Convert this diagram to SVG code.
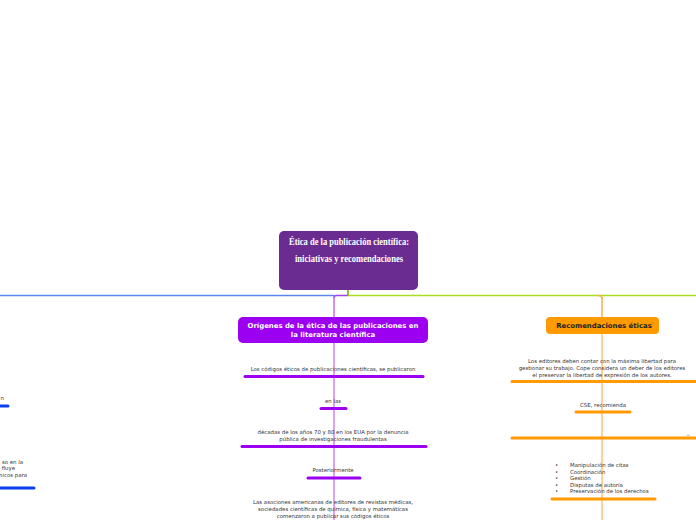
<svg xmlns="http://www.w3.org/2000/svg" width="696" height="520" viewBox="0 0 696 520">
<style>
.t{font-family:"DejaVu Sans",Verdana,sans-serif;font-size:5.4px;fill:#333;text-anchor:middle}
.tl{font-family:"DejaVu Sans",Verdana,sans-serif;font-size:5.4px;fill:#333}
.pb{stroke:#9b00f0;stroke-width:3;stroke-linecap:round;fill:none}
.ob{stroke:#ff9a00;stroke-width:3;stroke-linecap:round;fill:none}
.bb{stroke:#0a40f0;stroke-width:3;stroke-linecap:round;fill:none}
.pl{stroke:#dca2f8;stroke-width:2;fill:none}
.ol{stroke:#ffd09a;stroke-width:2;fill:none}
.ti{font-family:"Liberation Serif",serif;font-weight:bold;font-size:9.5px;fill:#fff;text-anchor:middle}
</style>
<rect width="696" height="520" fill="#ffffff"/>
<g id="connectors">
<line x1="348" y1="290" x2="348" y2="295.5" stroke="#8cbf3a" stroke-width="2"/>
<line x1="0" y1="295.5" x2="334" y2="295.5" stroke="#5b86f0" stroke-width="1.5"/>
<line x1="334" y1="298" x2="334" y2="317" stroke="#d590f8" stroke-width="2"/>
<path d="M348 295.5 H336 Q334 295.5 334 298" stroke="#a040f0" stroke-width="1.5" fill="none"/>
<line x1="602" y1="297" x2="602" y2="317" stroke="#ffc27a" stroke-width="2"/>
<line x1="348" y1="295.5" x2="696" y2="295.5" stroke="#a8e020" stroke-width="1.5"/>
<path d="M598 295.5 Q602 295.5 602 299" stroke="#ffb050" stroke-width="1.5" fill="none"/>
<line class="pl" x1="334" y1="343" x2="334" y2="520"/>
<line class="ol" x1="602" y1="334" x2="602" y2="520"/>
</g>
<g id="root">
<rect x="279" y="231" width="139" height="59" rx="5" fill="#6a2c91"/>
<text class="ti" x="349" y="245" textLength="120" lengthAdjust="spacingAndGlyphs">Ética de la publicación científica:</text>
<text class="ti" x="349" y="262" textLength="108" lengthAdjust="spacingAndGlyphs">iniciativas y recomendaciones</text>
</g>
<g id="origenes">
<rect x="238" y="317" width="190" height="26" rx="5" fill="#9b00f0"/>
<text x="333" y="328" font-family="DejaVu Sans,sans-serif" font-weight="bold" font-size="6.9" fill="#fff" text-anchor="middle">Orígenes de la ética de las publicaciones en</text>
<text x="333" y="337" font-family="DejaVu Sans,sans-serif" font-weight="bold" font-size="6.9" fill="#fff" text-anchor="middle">la literatura científica</text>
</g>
<g id="o1">
<text class="t" x="333" y="371">Los códigos éticos de publicaciones científicas, se publicaron</text>
<line class="pb" x1="245" y1="376.5" x2="423" y2="376.5"/>
</g>
<g id="o2">
<text class="t" x="333" y="403">en las</text>
<line class="pb" x1="321" y1="408.5" x2="346" y2="408.5"/>
</g>
<g id="o3">
<text class="t" x="333" y="434">décadas de los años 70 y 80 en los EUA por la denuncia</text>
<text class="t" x="333" y="441">pública de investigaciones fraudulentas</text>
<line class="pb" x1="242" y1="446.5" x2="426" y2="446.5"/>
</g>
<g id="o4">
<text class="t" x="333" y="472">Posteriormente</text>
<line class="pb" x1="308" y1="478" x2="360" y2="478"/>
</g>
<g id="o5">
<text class="t" x="333" y="504">Las asociones americanas de editores de revistas médicas,</text>
<text class="t" x="333" y="511">sociedades científicas de química, física y matemáticas</text>
<text class="t" x="333" y="518">comenzaron a publicar sus códigos éticos</text>
</g>
<g id="recomendaciones">
<rect x="546" y="317" width="113" height="17" rx="4" fill="#ff9a00"/>
<text x="604" y="328" font-family="DejaVu Sans,sans-serif" font-weight="bold" font-size="6.9" fill="#222" text-anchor="middle">Recomendaciones éticas</text>
</g>
<g id="r1">
<text class="t" x="602" y="363">Los editores deben contar con la máxima libertad para</text>
<text class="t" x="602" y="370">gestionar su trabajo. Cope considera un deber de los editores</text>
<text class="t" x="602" y="377">el preservar la libertad de expresión de los autores.</text>
<line class="ob" x1="512" y1="381.5" x2="696" y2="381.5"/>
</g>
<g id="r2">
<text class="t" x="603" y="407">CSE, recomienda</text>
<line class="ob" x1="576" y1="412" x2="630" y2="412"/>
</g>
<g id="r3">
<text class="t" x="688" y="434" font-size="4">_</text>
<line class="ob" x1="512" y1="438" x2="696" y2="438"/>
</g>
<g id="r4">
<text class="tl" x="555" y="467">•</text><text class="tl" x="570" y="467">Manipulación de citas</text>
<text class="tl" x="555" y="473.5">•</text><text class="tl" x="570" y="473.5">Coordinación</text>
<text class="tl" x="555" y="480">•</text><text class="tl" x="570" y="480">Gestión</text>
<text class="tl" x="555" y="486.5">•</text><text class="tl" x="570" y="486.5">Disputas de autoría</text>
<text class="tl" x="555" y="493">•</text><text class="tl" x="570" y="493">Preservación de los derechos</text>
<line class="ob" x1="552" y1="499" x2="655" y2="499"/>
</g>
<g id="l1">
<text class="tl" x="4" y="400" text-anchor="end">n</text>
<line class="bb" x1="0" y1="406" x2="8" y2="406"/>
</g>
<g id="l2">
<text class="tl" x="23" y="464" text-anchor="end">so en la</text>
<text class="tl" x="15" y="470" text-anchor="end">fluye</text>
<text class="tl" x="27" y="476.5" text-anchor="end">nicos para</text>
<line class="bb" x1="0" y1="488" x2="34" y2="488"/>
</g>
</svg>
